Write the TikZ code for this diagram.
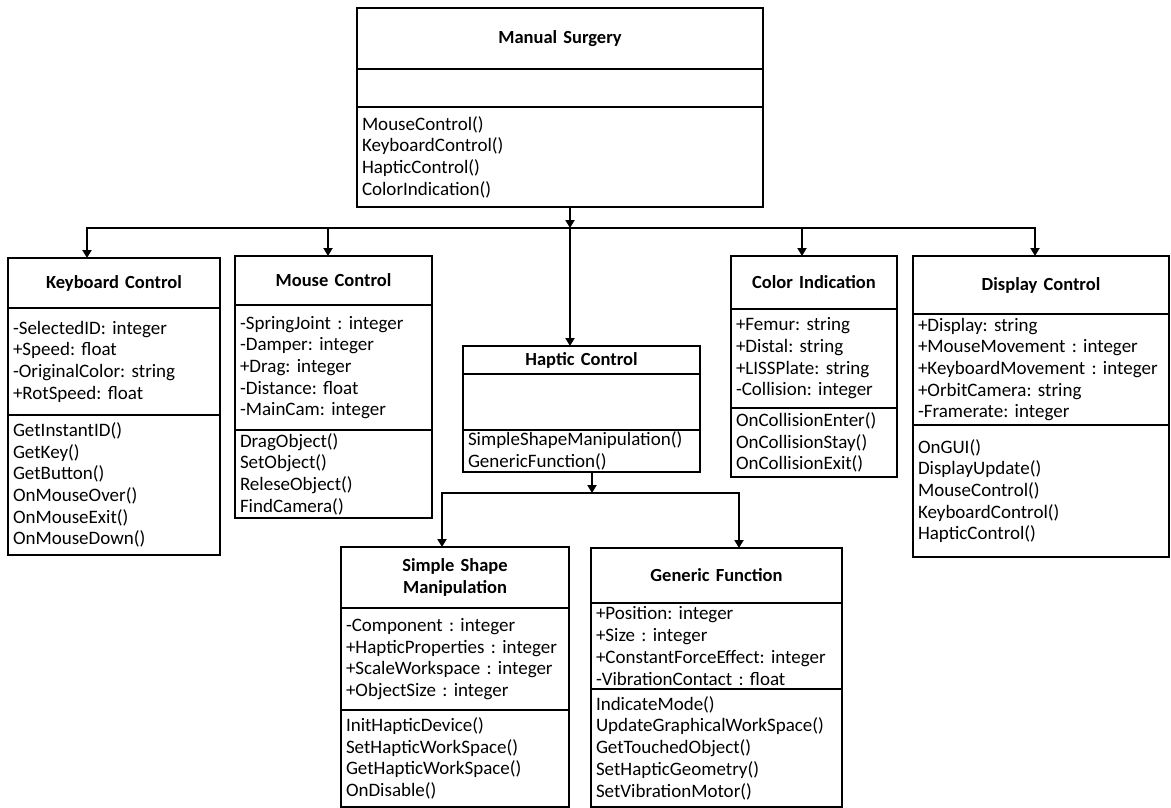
\documentclass[tikz,border=0pt]{standalone}
\usepackage{fontspec}
\setmainfont{Carlito}
\frenchspacing
\usetikzlibrary{arrows.meta, positioning, calc}
\tikzset{
	clshead/.style={rectangle, draw=black, line width=2.8pt, outer sep=0pt, inner xsep=5pt, inner ysep=0pt, align=center, font=\fontsize{18.5}{21.7}\selectfont\bfseries},
	clspart/.style={rectangle, draw=black, line width=2.8pt, outer sep=0pt, inner xsep=5pt, inner ysep=0pt, align=left},
	% connectors between the classes
	bus/.style={line width=2.5pt, line cap=rect},
	sig/.style={-{Triangle[length=8pt, width=9pt]}, line width=2.5pt},
}
\begin{document}
\begin{tikzpicture}[x=1pt, y=-1pt, font=\fontsize{19}{21.7}\selectfont]
	\useasboundingbox (0,0) rectangle (1171,808);
	% Manual Surgery
	\node[clshead, text width=396pt, minimum height=61pt, anchor=north west] (ms) at (357,8) {Manual Surgery};
	\node[clspart, text width=396pt, minimum height=38pt, below=0pt of ms] (ms-attr) {};
	\node[clspart, text width=396pt, minimum height=100pt, below=0pt of ms-attr] (ms-ops) {MouseControl()\\KeyboardControl()\\HapticControl()\\ColorIndication()};
	% Keyboard Control
	\node[clshead, text width=202pt, minimum height=50pt, anchor=north west] (kb) at (8,258) {Keyboard Control};
	\node[clspart, text width=202pt, minimum height=107pt, below=0pt of kb] (kb-attr) {-SelectedID: integer\\+Speed: float\\-OriginalColor: string\\+RotSpeed:\ float};
	\node[clspart, text width=202pt, minimum height=140pt, below=0pt of kb-attr] (kb-ops) {GetInstantID()\\GetKey()\\GetButton()\\OnMouseOver()\\OnMouseExit()\\OnMouseDown()};
	% Mouse Control
	\node[clshead, text width=187pt, minimum height=49pt, anchor=north west] (mc) at (235,256) {Mouse Control};
	\node[clspart, text width=187pt, minimum height=125pt, below=0pt of mc] (mc-attr) {-SpringJoint : integer\\-Damper: integer\\+Drag: integer\\-Distance: float\\-MainCam: integer};
	\node[clspart, text width=187pt, minimum height=88pt, below=0pt of mc-attr] (mc-ops) {DragObject()\\SetObject()\\ReleseObject()\\FindCamera()};
	% Haptic Control
	\node[clshead, text width=227pt, minimum height=28pt, anchor=north west] (hc) at (463,346) {Haptic Control};
	\node[clspart, text width=227pt, minimum height=56pt, below=0pt of hc] (hc-attr) {};
	\node[clspart, text width=227pt, minimum height=42pt, below=0pt of hc-attr] (hc-ops) {SimpleShapeManipulation()\\GenericFunction()};
	% Color Indication
	\node[clshead, text width=156pt, minimum height=53pt, anchor=north west] (ci) at (731,256) {Color Indication};
	\node[clspart, text width=156pt, minimum height=99pt, below=0pt of ci] (ci-attr) {+Femur: string\\+Distal: string\\+LISSPlate: string\\-Collision: integer};
	\node[clspart, text width=156pt, minimum height=69pt, below=0pt of ci-attr] (ci-ops) {OnCollisionEnter()\\OnCollisionStay()\\OnCollisionExit()};
	% Display Control
	\node[clshead, text width=246pt, minimum height=58pt, anchor=north west] (dc) at (913,256) {Display Control};
	\node[clspart, text width=246pt, minimum height=111pt, below=0pt of dc] (dc-attr) {+Display: string\\+MouseMovement~: integer\\+KeyboardMovement~: integer\\+OrbitCamera: string\\-Framerate: integer};
	\node[clspart, text width=246pt, minimum height=132pt, below=0pt of dc-attr] (dc-ops) {OnGUI()\\DisplayUpdate()\\MouseControl()\\KeyboardControl()\\HapticControl()};
	% Simple Shape Manipulation
	\node[clshead, text width=218pt, minimum height=61pt, anchor=north west] (ss) at (341,547) {Simple Shape\\Manipulation};
	\node[clspart, text width=218pt, minimum height=102pt, below=0pt of ss] (ss-attr) {-Component : integer\\+HapticProperties : integer\\+ScaleWorkspace : integer\\+ObjectSize : integer};
	\node[clspart, text width=218pt, minimum height=97pt, below=0pt of ss-attr] (ss-ops) {InitHapticDevice()\\SetHapticWorkSpace()\\GetHapticWorkSpace()\\OnDisable()};
	% Generic Function
	\node[clshead, text width=241pt, minimum height=55pt, anchor=north west] (gf) at (591,548) {Generic Function};
	\node[clspart, text width=241pt, minimum height=86pt, below=0pt of gf] (gf-attr) {+Position: integer\\+Size : integer\\+ConstantForceEffect: integer\\-VibrationContact : float};
	\node[clspart, text width=241pt, minimum height=118pt, below=0pt of gf-attr] (gf-ops) {IndicateMode()\\UpdateGraphicalWorkSpace()\\GetTouchedObject()\\SetHapticGeometry()\\SetVibrationMotor()};
	% upper bus
	\coordinate (bustop) at (570,228);
	\coordinate (dkb) at (87,228);
	\coordinate (dmc) at (328,228);
	\coordinate (dci) at (802,228);
	\coordinate (ddc) at (1035,228);
	\draw[sig] (ms-ops.south -| bustop) -- (bustop);
	\draw[bus] (dkb) -- (ddc);
	\foreach \d/\c in {dkb/kb, dmc/mc, dci/ci, ddc/dc}
		\draw[sig] (\d) -- (\d |- \c.north);
	\draw[sig] (bustop) -- (bustop |- hc.north);
	% lower bus
	\coordinate (buslow) at (592,493);
	\coordinate (dss) at (442,493);
	\coordinate (dgf) at (739,493);
	\draw[sig] (hc-ops.south -| buslow) -- (buslow);
	\draw[bus] (dss) -- (dgf);
	\draw[sig] (dss) -- (dss |- ss.north);
	\draw[sig] (dgf) -- (dgf |- gf.north);
\end{tikzpicture}
\end{document}
